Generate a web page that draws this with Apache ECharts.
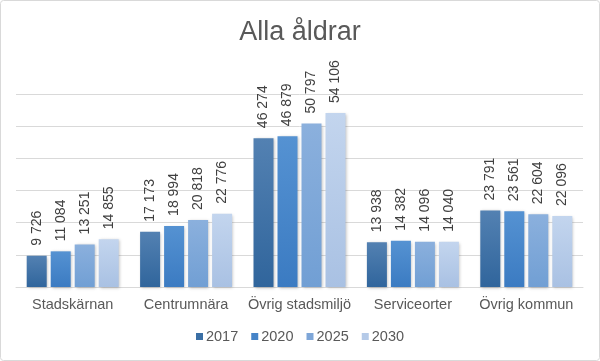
<!DOCTYPE html>
<html><head><meta charset="utf-8">
<script src="https://cdn.jsdelivr.net/npm/echarts@6/dist/echarts.min.js"></script>
<style>html,body{margin:0;padding:0;background:#fff}#c{width:600px;height:361px}</style>
</head><body><div id="c"></div>
<script>
const categories = ['Stadskärnan','Centrumnära','Övrig stadsmiljö','Serviceorter','Övrig kommun'];
const seriesNames = ['2017','2020','2025','2030'];
const v2017 = [9726, 17173, 46274, 13938, 23791];
const v2020 = [11084, 18994, 46879, 14382, 23561];
const v2025 = [13251, 20818, 50797, 14096, 22604];
const v2030 = [14855, 22776, 54106, 14040, 22096];
const values = [v2017, v2020, v2025, v2030];
const colorsTop = ['#5381b2','#5592d2','#8bb0dd','#c3d5ee'];
const colorsBot = ['#30659c','#3b7bc2','#719fd4','#a9c1e3'];
const legendColors = ['#3a6fa5','#4584c8','#7ea6d8','#b5cae8'];

const fmt = v => String(v).replace(/\B(?=(\d{3})+(?!\d))/g, ' ');
const chart = echarts.init(document.getElementById('c'), null, {renderer:'canvas'});
chart.setOption({
  animation:false,
  backgroundColor:'#fff',
  title:{text:'Alla åldrar',left:'center',top:14,textStyle:{fontFamily:'Liberation Sans, Arial',fontSize:27,fontWeight:'normal',color:'#595959'}},
  graphic:[{type:'rect',shape:{x:0.5,y:0.5,width:599,height:360,r:3},style:{fill:'none',stroke:'#d9d9d9',lineWidth:1},silent:true}],
  legend:{bottom:12,left:'center',itemWidth:7,itemHeight:7,itemGap:13,icon:'rect',
    textStyle:{fontFamily:'Liberation Sans, Arial',fontSize:14.5,color:'#595959',padding:[0,0,0,-2]},
    data:seriesNames.map((n,i)=>({name:n,itemStyle:{color:legendColors[i]}}))},
  grid:{left:16,right:17,top:94,bottom:74},
  xAxis:{type:'category',data:categories,axisTick:{show:false},
    axisLine:{lineStyle:{color:'#d9d9d9'}},
    axisLabel:{fontFamily:'Liberation Sans, Arial',fontSize:14.5,color:'#595959',margin:10,interval:0}},
  yAxis:{type:'value',min:0,max:60000,interval:10000,axisLabel:{show:false},axisLine:{show:false},axisTick:{show:false},
    splitLine:{lineStyle:{color:'#d9d9d9'}}},
  series:seriesNames.map((n,i)=>({
    name:n,type:'bar',data:values[i],barWidth:20,barGap:'20%',
    itemStyle:{color:new echarts.graphic.LinearGradient(0,0,0,1,[{offset:0,color:colorsTop[i]},{offset:1,color:colorsBot[i]}]),
      shadowColor:'rgba(0,0,0,0.25)',shadowBlur:3,shadowOffsetX:1,shadowOffsetY:1},
    label:{show:true,position:'top',rotate:90,align:'left',verticalAlign:'middle',distance:10,
      fontFamily:'Liberation Sans, Arial',fontSize:14,color:'#404040',formatter:p=>fmt(p.value)}
  }))
});
</script></body></html>
